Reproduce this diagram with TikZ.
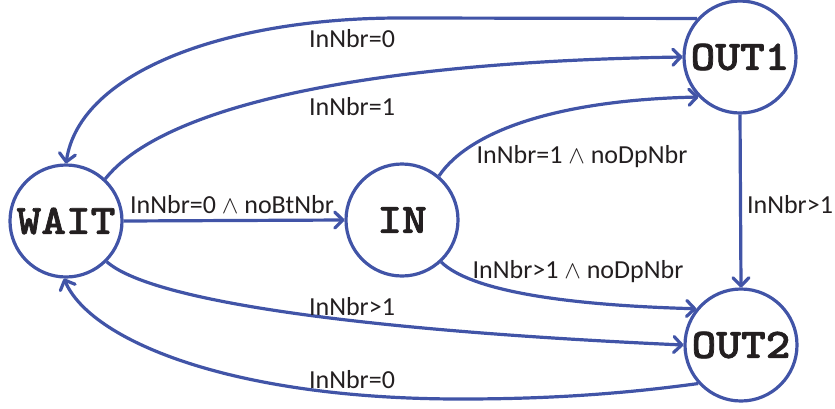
\documentclass[tikz,border=0pt]{standalone}
\usepackage{fontspec}
\setmainfont{Carlito}
\newfontfamily\monob{lmmonolt10-bold}[Extension=.otf,FakeBold=1.5]
\usetikzlibrary{arrows.meta}
\definecolor{edgeblue}{RGB}{65,84,167}
\definecolor{ink}{RGB}{35,31,32}
\newcommand{\statetext}[1]{\scalebox{1.12}[1]{#1}}
\begin{document}
\begin{tikzpicture}[x=1pt,y=-1pt,
  state/.style={circle,draw=edgeblue,line width=3.2pt,minimum size=112pt,inner sep=0pt,fill=white,
    font=\monob\fontsize{42}{42}\selectfont,text=ink},
  edge/.style={draw=edgeblue,line width=3.2pt,-{Straight Barb[length=8pt,width=16pt,round]}},
  lbl/.style={font=\fontsize{26}{26}\selectfont,text=ink,inner sep=0pt,anchor=base}]
\useasboundingbox (0,0) rectangle (835,408);
\node[state] (wait) at (66,221) {\statetext{WAIT}};
\node[state] (in) at (402,220) {\statetext{IN}};
\node[state] (out1) at (740,57) {\statetext{OUT1}};
\node[state] (out2) at (741,345) {\statetext{OUT2}};

\draw[edge] (out1.138) -- (400,18) .. controls (230,18) and (80,70) .. (wait.north);
\draw[edge] (wait.47) .. controls (160,110) and (350,62) .. (out1.west);
\draw[edge] (wait.east) -- (in.west);
\draw[edge] (in.50) .. controls (470,130) and (560,100) .. (out1.224);
\draw[edge] (in.-47) .. controls (470,290) and (560,305) .. (out2.141);
\draw[edge] (out1.south) -- (out2.north);
\draw[edge] (wait.-45) .. controls (150,300) and (350,330) .. (out2.west);
\draw[edge] (out2.222) .. controls (600,397) and (520,399) .. (460,399) .. controls (230,399) and (90,340) .. (wait.268);

\node[lbl] (l1) at (352,47) {InNbr=0};
\node[lbl] (l2) at (352,115) {InNbr=1};
\node[lbl] (l3) at (232,213) {InNbr=0 $\wedge$ noBtNbr};
\node[lbl] (l4) at (582,163) {InNbr=1 $\wedge$ noDpNbr};
\node[lbl] (l5) at (578,278) {InNbr>1 $\wedge$ noDpNbr};
\node[lbl] (l6) at (790,213) {InNbr>1};
\node[lbl] (l7) at (352,315) {InNbr>1};
\node[lbl] (l8) at (352,388) {InNbr=0};
\end{tikzpicture}
\end{document}
